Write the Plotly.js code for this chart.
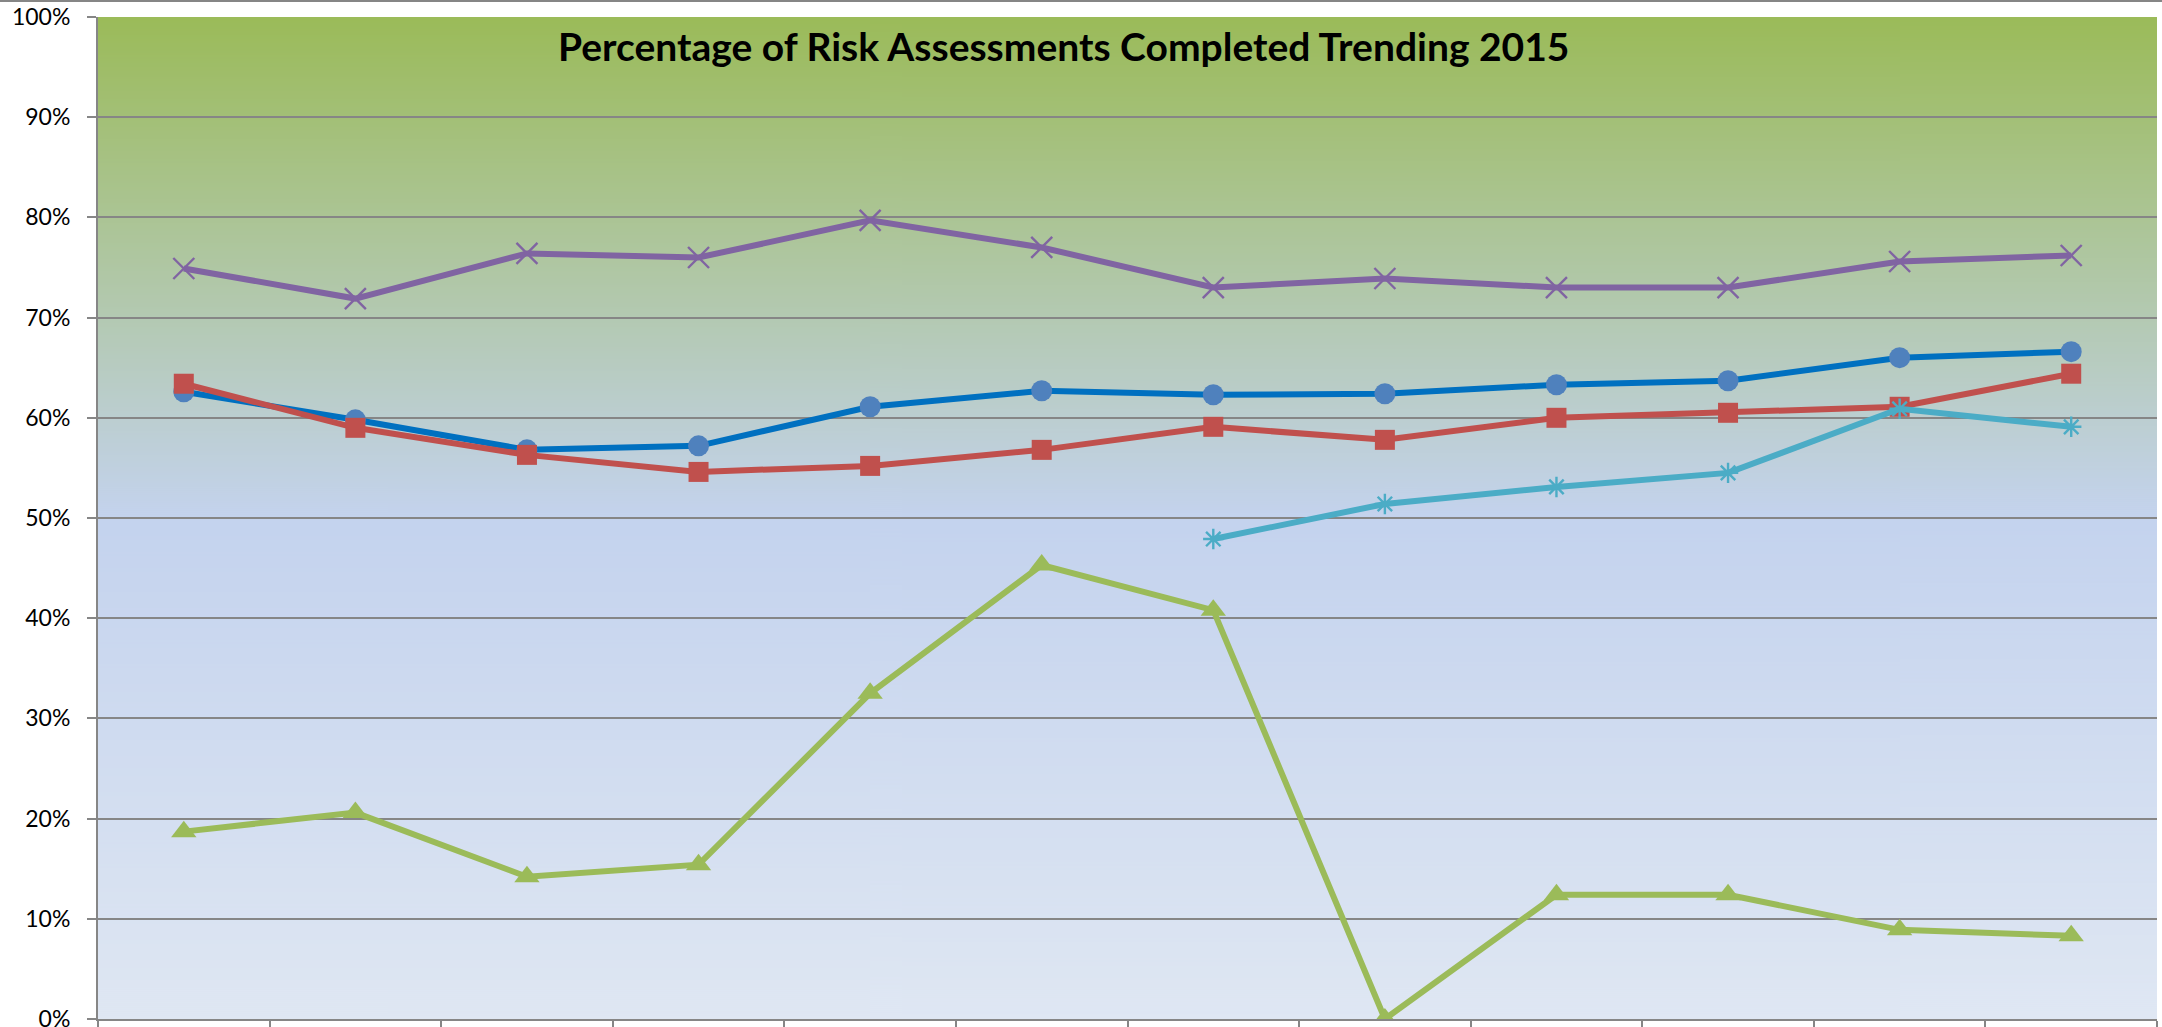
<!DOCTYPE html>
<html>
<head>
<meta charset="utf-8">
<script src="https://cdn.plot.ly/plotly-3.0.1.min.js"></script>
<style>html,body{margin:0;padding:0;background:#fff;}#chart{width:2162px;height:1027px;}</style>
</head>
<body>
<div id="chart"></div>
<script>
// ---- data ----
const months = ["Jan","Feb","Mar","Apr","May","Jun","Jul","Aug","Sep","Oct","Nov","Dec"];
const seriesBlue   = [0.626, 0.598, 0.568, 0.572, 0.611, 0.627, 0.623, 0.624, 0.633, 0.637, 0.660, 0.666];
const seriesRed    = [0.634, 0.590, 0.563, 0.546, 0.552, 0.568, 0.591, 0.578, 0.600, 0.605, 0.611, 0.644];
const seriesGreen  = [0.187, 0.206, 0.142, 0.154, 0.325, 0.453, 0.408, 0.000, 0.124, 0.124, 0.089, 0.083];
const seriesPurple = [0.749, 0.719, 0.764, 0.760, 0.797, 0.770, 0.730, 0.739, 0.730, 0.730, 0.756, 0.762];
const seriesCyan   = [null, null, null, null, null, null, 0.479, 0.514, 0.531, 0.545, 0.609, 0.591];
const titleText = "Percentage of Risk Assessments Completed Trending 2015";

// ---- background gradient image ----
const cv = document.createElement('canvas');
cv.width = 4; cv.height = 1000;
const ctx = cv.getContext('2d');
const g = ctx.createLinearGradient(0, 0, 0, 1000);
g.addColorStop(0, '#9BBB59');
g.addColorStop(0.5, '#C4D3EE');
g.addColorStop(1, '#DFE7F3');
ctx.fillStyle = g; ctx.fillRect(0, 0, 4, 1000);
const bgImg = cv.toDataURL('image/png');

const lw = 6;
function tr(y, color, lineColor, symbol, size, mline) {
  return {
    x: months, y: y, type: 'scatter', mode: 'lines+markers',
    line: {color: lineColor, width: lw},
    marker: {symbol: symbol, size: size, color: color,
             line: mline ? {color: color, width: mline} : {width: 0}},
    connectgaps: false, hoverinfo: 'skip', showlegend: false
  };
}
const traces = [
  tr(seriesBlue, '#4F81BD', '#0070C0', 'circle', 21, 0),
  tr(seriesRed, '#C0504D', '#C0504D', 'square', 20, 0),
  tr(seriesGreen, '#9BBB59', '#9BBB59', 'triangle-up', 22, 0),
  tr(seriesPurple, '#8064A2', '#8064A2', 'x-thin', 21, 2.4),
  tr(seriesCyan, '#4BACC6', '#4BACC6', 'asterisk-open', 17, 2.4)
];

const layout = {
  width: 2162, height: 1027,
  margin: {l: 98, r: 5, t: 17, b: 8, pad: 0},
  paper_bgcolor: '#ffffff',
  plot_bgcolor: 'rgba(0,0,0,0)',
  font: {family: 'Lato, "Open Sans", sans-serif', color: '#000'},
  title: {
    text: '<b>' + titleText + '</b>',
    font: {family: 'Lato, sans-serif', size: 39, color: '#000'},
    x: 0.492, xanchor: 'center', xref: 'container',
    y: 0.954, yanchor: 'middle', yref: 'container'
  },
  xaxis: {
    type: 'category', tickson: 'boundaries', range: [-0.5, 11.5],
    showticklabels: false, ticks: 'outside', ticklen: 10, tickwidth: 2, tickcolor: '#868686',
    showline: true, linecolor: '#868686', linewidth: 2,
    showgrid: false, zeroline: false, fixedrange: true
  },
  yaxis: {
    range: [0, 1], dtick: 0.1, tick0: 0, tickformat: '.0%',
    ticks: 'outside', ticklen: 9, tickwidth: 2, tickcolor: '#868686',
    ticklabelstandoff: 12, ticklabeloverflow: 'allow',
    tickfont: {family: 'Lato, sans-serif', size: 23, color: '#000'},
    showline: true, linecolor: '#868686', linewidth: 2,
    showgrid: true, gridcolor: '#868686', gridwidth: 2,
    zeroline: false, fixedrange: true
  },
  images: [{
    source: bgImg, xref: 'paper', yref: 'paper',
    x: 0, y: 1, sizex: 1, sizey: 1, xanchor: 'left', yanchor: 'top',
    sizing: 'stretch', layer: 'below'
  }],
  shapes: [{
    type: 'line', xref: 'paper', yref: 'paper',
    x0: -0.06, x1: 1.01, y0: 1.016, y1: 1.016,
    line: {color: '#868686', width: 2}
  }]
};

Plotly.newPlot('chart', traces, layout, {displayModeBar: false, staticPlot: true});
</script>
</body>
</html>
